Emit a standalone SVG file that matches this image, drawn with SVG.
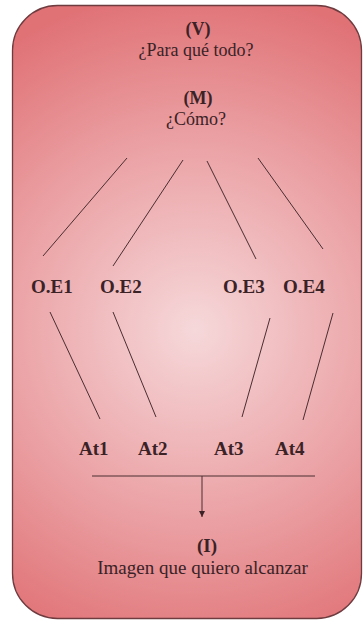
<svg xmlns="http://www.w3.org/2000/svg" width="363" height="620" viewBox="0 0 363 620">
<defs>
<radialGradient id="bg" gradientUnits="userSpaceOnUse" cx="195" cy="330" r="340">
<stop offset="0" stop-color="#f6d8da"/>
<stop offset="0.55" stop-color="#eba2a5"/>
<stop offset="1" stop-color="#e07276"/>
</radialGradient>
<marker id="arr" viewBox="0 0 10 10" refX="10" refY="5" markerWidth="6" markerHeight="6" markerUnits="userSpaceOnUse" orient="auto">
<path d="M0,0 L10,5 L0,10 z" fill="#3a2226"/>
</marker>
<style>
text{font-family:"Liberation Serif","Times New Roman",serif;fill:#3a2226;font-size:19px}
.b{font-weight:bold}
.c{text-anchor:middle}
.s{font-size:18px}
.ln{stroke:#4a2e31;stroke-width:1;fill:none}
</style>
</defs>
<rect id="frame" x="12.5" y="5.5" width="349" height="613" rx="45" ry="45" fill="url(#bg)" stroke="#6e3b3f" stroke-width="1.3"/>
<g id="nodeV"><text class="b c s" x="198" y="35">(V)</text><text class="c s" x="196" y="56">¿Para qué todo?</text></g>
<g id="nodeM"><text class="b c s" x="198" y="104">(M)</text><text class="c s" x="196" y="125">¿Cómo?</text></g>
<g id="OE1"><text class="b" x="31" y="293">O.E1</text></g>
<g id="OE2"><text class="b" x="100" y="293">O.E2</text></g>
<g id="OE3"><text class="b" x="223" y="293">O.E3</text></g>
<g id="OE4"><text class="b" x="283" y="293">O.E4</text></g>
<g id="At1"><text class="b" x="79" y="455">At1</text></g>
<g id="At2"><text class="b" x="138" y="455">At2</text></g>
<g id="At3"><text class="b" x="214" y="455">At3</text></g>
<g id="At4"><text class="b" x="275" y="455">At4</text></g>
<g id="nodeI"><text class="b c" x="207" y="552">(I)</text><text class="c" x="202.5" y="574" font-size="20">Imagen que quiero alcanzar</text></g>
<g id="connectors">
<line class="ln" x1="127" y1="158" x2="43" y2="256"/>
<line class="ln" x1="183" y1="160" x2="113" y2="266"/>
<line class="ln" x1="207" y1="161" x2="256" y2="259"/>
<line class="ln" x1="258" y1="158" x2="323" y2="249"/>
<line class="ln" x1="50" y1="312" x2="100" y2="419"/>
<line class="ln" x1="113" y1="312" x2="156" y2="417"/>
<line class="ln" x1="270" y1="318" x2="242" y2="417"/>
<line class="ln" x1="333" y1="313" x2="303" y2="420"/>
<line class="ln" x1="92" y1="476" x2="315" y2="476"/>
<line class="ln" x1="202" y1="476" x2="202" y2="517" marker-end="url(#arr)"/>
</g>
</svg>
